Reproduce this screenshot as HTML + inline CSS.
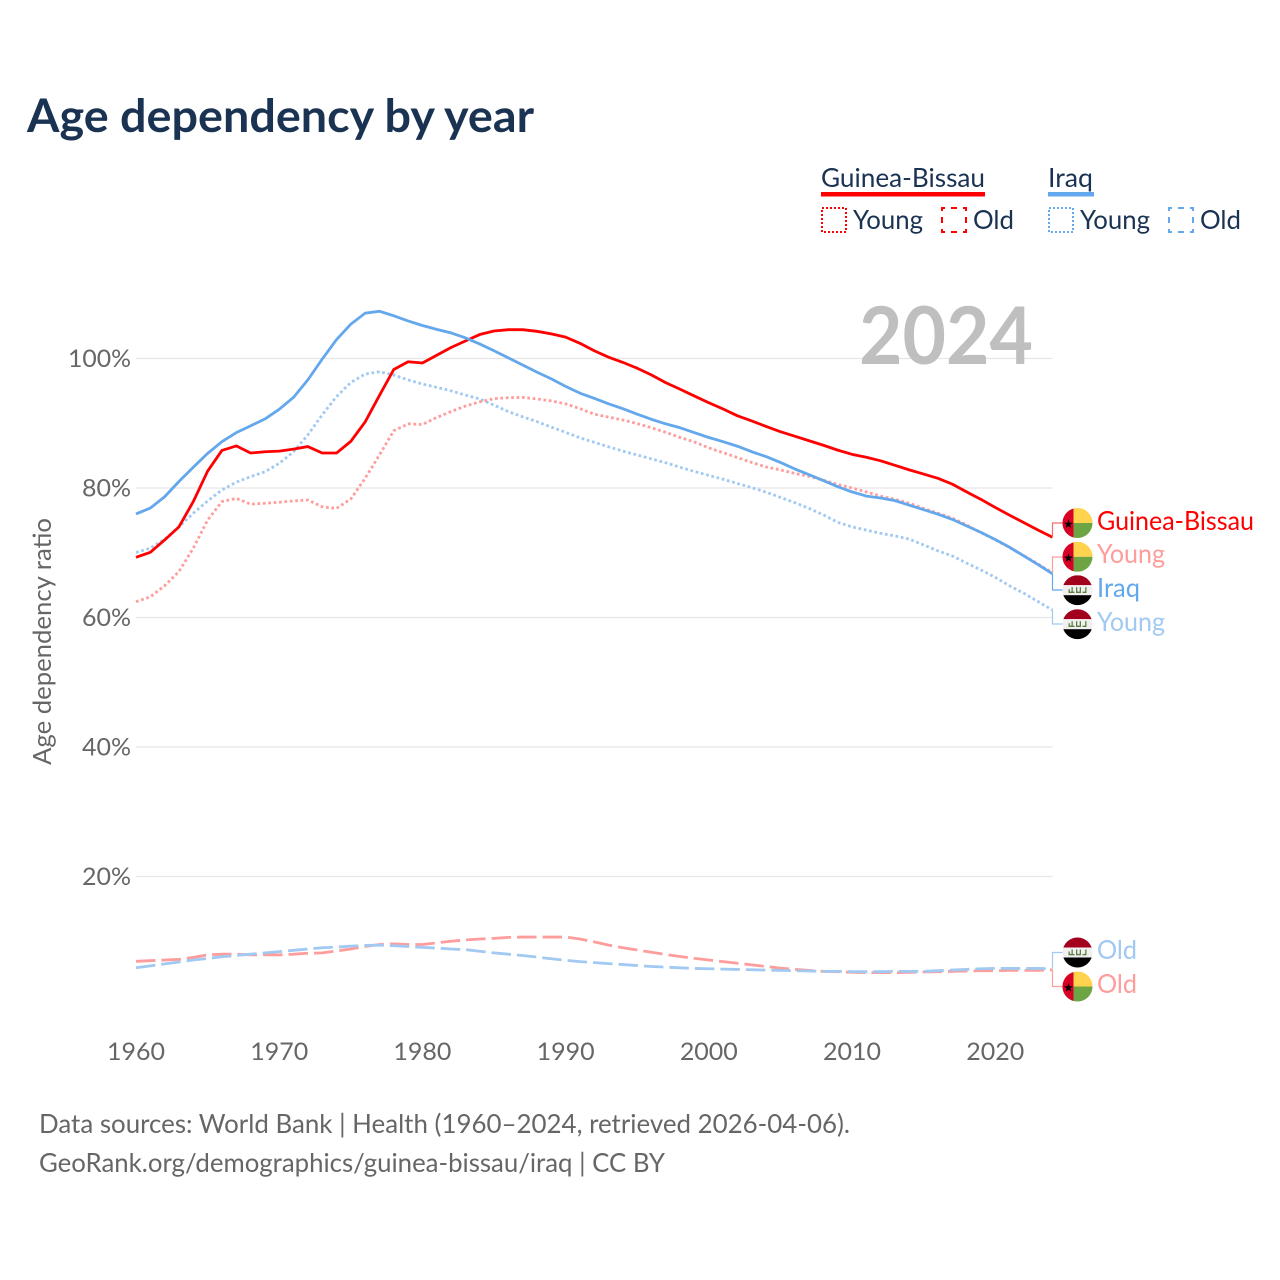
<!DOCTYPE html>
<html lang="en">
<head>
<meta charset="utf-8">
<title>Age dependency by year</title>
<style>
html,body{margin:0;padding:0;background:#fff;}
svg{display:block;font-family:"Lato","Carlito","Liberation Sans",sans-serif;}
</style>
</head>
<body>
<svg id="chart" xmlns="http://www.w3.org/2000/svg" width="1280" height="1280" viewBox="0 0 1280 1280">
  <defs>
    <clipPath id="flag-clip"><circle cx="0" cy="0" r="15"/></clipPath>
    <g id="flag-gw" clip-path="url(#flag-clip)">
      <rect x="-15" y="-15" width="30" height="15" fill="#ffd34d"/>
      <rect x="-15" y="0" width="30" height="15" fill="#6da544"/>
      <rect x="-15" y="-15" width="11" height="30" fill="#d80027"/>
      <polygon points="-9,-3.5 -7.9,-0.2 -4.5,-0.2 -7.2,1.8 -6.2,5 -9,3.1 -11.8,5 -10.8,1.8 -13.5,-0.2 -10.1,-0.2" fill="#000"/>
    </g>
    <g id="flag-iq" clip-path="url(#flag-clip)">
      <rect x="-15" y="-15" width="30" height="10" fill="#a2001d"/>
      <rect x="-15" y="-5" width="30" height="10" fill="#f0f0f0"/>
      <rect x="-15" y="5" width="30" height="10" fill="#000"/>
      <g fill="#5c8042">
        <rect x="-9" y="1.4" width="6" height="1.4"/>
        <rect x="-9" y="-1" width="1.3" height="3"/>
        <rect x="-6" y="-3" width="1.3" height="5"/>
        <rect x="-1.5" y="1.4" width="5" height="1.4"/>
        <rect x="-1.5" y="-3" width="1.3" height="5"/>
        <rect x="2.2" y="-3" width="1.3" height="5"/>
        <rect x="5" y="1.4" width="4" height="1.4"/>
        <rect x="7.7" y="-3" width="1.3" height="5"/>
      </g>
    </g>
  </defs>

  <rect x="0" y="0" width="1280" height="1280" fill="#fff"/>

  <text x="27" y="132" font-size="46" font-weight="700" fill="#1a3353" textLength="507" lengthAdjust="spacingAndGlyphs">Age dependency by year</text>

  <g font-size="26" fill="#1a3353">
    <text x="821" y="187" textLength="164" lengthAdjust="spacingAndGlyphs">Guinea-Bissau</text>
    <rect x="821" y="192" width="164" height="4.5" fill="#ff0000"/>
    <text x="1048" y="187" textLength="45" lengthAdjust="spacingAndGlyphs">Iraq</text>
    <rect x="1048" y="192" width="46" height="4.5" fill="#63a7ec"/>

    <rect x="822" y="208" width="24" height="24" fill="none" stroke="#ff0000" stroke-width="2" stroke-dasharray="2 2"/>
    <text x="853" y="229" textLength="70" lengthAdjust="spacingAndGlyphs">Young</text>
    <rect x="942" y="208" width="24" height="24" fill="none" stroke="#ff0000" stroke-width="2" stroke-dasharray="6 6" stroke-dashoffset="3"/>
    <text x="973" y="229" textLength="41" lengthAdjust="spacingAndGlyphs">Old</text>

    <rect x="1049" y="208" width="24" height="24" fill="none" stroke="#63a7ec" stroke-width="2" stroke-dasharray="2 2"/>
    <text x="1080" y="229" textLength="70" lengthAdjust="spacingAndGlyphs">Young</text>
    <rect x="1169" y="208" width="24" height="24" fill="none" stroke="#63a7ec" stroke-width="2" stroke-dasharray="6 6" stroke-dashoffset="3"/>
    <text x="1200" y="229" textLength="41" lengthAdjust="spacingAndGlyphs">Old</text>
  </g>

  <g id="grid"></g>
  <g id="y-ticks"></g>
  <g id="x-ticks"></g>

  <text transform="translate(51,765) rotate(-90)" font-size="25" fill="#666" textLength="247" lengthAdjust="spacingAndGlyphs">Age dependency ratio</text>

  <text x="859" y="364" font-size="80" font-weight="700" fill="#bfbfbf" textLength="174" lengthAdjust="spacingAndGlyphs">2024</text>

  <g id="series"></g>
  <g id="connectors"></g>

  <g font-size="26">
    <use href="#flag-gw" x="1077.5" y="523"/>
    <use href="#flag-gw" x="1077.5" y="556.8"/>
    <use href="#flag-iq" x="1077.5" y="590.2"/>
    <use href="#flag-iq" x="1077.5" y="624.2"/>
    <use href="#flag-iq" x="1077.5" y="952.5"/>
    <use href="#flag-gw" x="1077.5" y="986.5"/>
    <text x="1097" y="530" fill="#ff0000" textLength="157" lengthAdjust="spacingAndGlyphs">Guinea-Bissau</text>
    <text x="1097" y="563" fill="#ff9c9c" textLength="68" lengthAdjust="spacingAndGlyphs">Young</text>
    <text x="1097" y="597" fill="#63a7ec" textLength="43" lengthAdjust="spacingAndGlyphs">Iraq</text>
    <text x="1097" y="631" fill="#a1c9f2" textLength="68" lengthAdjust="spacingAndGlyphs">Young</text>
    <text x="1097" y="959" fill="#a1c9f2" textLength="40" lengthAdjust="spacingAndGlyphs">Old</text>
    <text x="1097" y="993" fill="#ff9c9c" textLength="40" lengthAdjust="spacingAndGlyphs">Old</text>
  </g>

  <g font-size="26" fill="#666">
    <text x="39" y="1133" textLength="811" lengthAdjust="spacingAndGlyphs">Data sources: World Bank | Health (1960–2024, retrieved 2026-04-06).</text>
    <text x="39" y="1172" textLength="626" lengthAdjust="spacingAndGlyphs">GeoRank.org/demographics/guinea-bissau/iraq | CC BY</text>
  </g>
</svg>

<script>
const firstYear = 1960;
const lastYear = 2024;
const yTickValues = [20, 40, 60, 80, 100];
const yTickLabels = ["20%", "40%", "60%", "80%", "100%"];
const xTickYears = [1960, 1970, 1980, 1990, 2000, 2010, 2020];

const guineaBissauTotal = [69.3,70.07,71.97,74.0,77.9,82.6,85.8,86.5,85.4,85.6,85.7,86.0,86.4,85.4,85.4,87.2,90.2,94.3,98.3,99.5,99.3,100.5,101.7,102.7,103.7,104.25,104.45,104.45,104.2,103.8,103.3,102.35,101.2,100.2,99.4,98.5,97.45,96.25,95.25,94.2,93.17,92.2,91.15,90.35,89.5,88.7,88.0,87.3,86.6,85.85,85.2,84.75,84.2,83.5,82.8,82.15,81.5,80.6,79.4,78.25,77.0,75.8,74.65,73.5,72.4];
const guineaBissauYoung = [62.45,63.2,64.9,67.1,70.7,75.05,77.9,78.4,77.5,77.65,77.8,78.0,78.15,77.1,76.85,78.3,81.5,85.1,88.85,89.9,89.8,90.9,91.8,92.65,93.3,93.8,93.95,94.0,93.75,93.45,93.0,92.25,91.4,90.95,90.5,89.95,89.3,88.6,87.8,87.1,86.2,85.45,84.7,83.95,83.25,82.8,82.25,81.8,81.2,80.55,80.0,79.4,78.75,78.25,77.65,76.85,76.1,75.35,74.3,73.1,72.0,70.8,69.55,68.25,66.9];
const guineaBissauOld = [6.9,7.0,7.1,7.2,7.5,7.9,8.0,8.0,7.9,7.9,7.9,8.0,8.15,8.2,8.5,8.8,9.2,9.5,9.6,9.5,9.5,9.75,10.0,10.2,10.35,10.45,10.6,10.65,10.65,10.65,10.65,10.35,9.9,9.4,9.0,8.65,8.3,7.95,7.65,7.35,7.1,6.85,6.6,6.35,6.1,5.85,5.65,5.5,5.35,5.3,5.2,5.15,5.15,5.15,5.2,5.25,5.3,5.35,5.4,5.45,5.45,5.5,5.5,5.5,5.6];
const iraqTotal = [76.0,76.9,78.65,81.0,83.2,85.35,87.15,88.55,89.6,90.65,92.15,94.0,96.7,99.9,102.9,105.3,107.0,107.3,106.6,105.8,105.1,104.5,103.95,103.2,102.25,101.2,100.1,99.0,97.9,96.85,95.7,94.65,93.85,93.0,92.25,91.4,90.6,89.9,89.3,88.55,87.8,87.15,86.45,85.6,84.85,83.95,82.95,82.05,81.15,80.2,79.4,78.75,78.45,78.05,77.35,76.65,75.95,75.15,74.15,73.15,72.05,70.85,69.5,68.15,66.75];
const iraqYoung = [70.05,70.7,72.1,74.0,76.1,78.0,79.7,80.9,81.75,82.5,83.8,85.6,88.2,91.3,94.1,96.3,97.6,97.95,97.45,96.7,96.05,95.55,95.0,94.35,93.75,92.8,91.8,91.0,90.25,89.4,88.6,87.75,87.05,86.35,85.7,85.1,84.5,83.9,83.2,82.55,81.95,81.35,80.7,80.05,79.35,78.55,77.75,76.85,75.85,74.7,74.0,73.5,73.0,72.6,72.1,71.2,70.3,69.5,68.4,67.35,66.2,64.9,63.75,62.45,61.15];
const iraqOld = [5.9,6.2,6.5,6.8,7.1,7.35,7.6,7.8,8.0,8.2,8.4,8.6,8.8,9.0,9.1,9.25,9.35,9.4,9.3,9.2,9.05,8.95,8.8,8.7,8.45,8.2,8.0,7.8,7.55,7.3,7.05,6.85,6.7,6.55,6.4,6.25,6.1,6.0,5.9,5.8,5.75,5.7,5.65,5.6,5.55,5.5,5.45,5.4,5.35,5.35,5.3,5.3,5.3,5.35,5.35,5.35,5.45,5.55,5.65,5.75,5.8,5.8,5.8,5.8,5.75];

const SVGNS = "http://www.w3.org/2000/svg";
const plotLeft = 136, plotRight = 1052.5, zeroY = 1006, pxPerPct = 6.475;
const xScale = function (year) { return plotLeft + (year - firstYear) * (plotRight - plotLeft) / (lastYear - firstYear); };
const yScale = function (value) { return zeroY - value * pxPerPct; };

function make(tag, parent) {
  const el = document.createElementNS(SVGNS, tag);
  parent.appendChild(el);
  return el;
}

const gridGroup = document.getElementById("grid");
const yTickGroup = document.getElementById("y-ticks");
const xTickGroup = document.getElementById("x-ticks");
const seriesGroup = document.getElementById("series");
const connectorGroup = document.getElementById("connectors");

yTickValues.forEach(function (v, i) {
  const line = make("line", gridGroup);
  
  
  line.setAttribute("x1", plotLeft);
  line.setAttribute("x2", plotRight);
  line.setAttribute("y1", yScale(v));
  line.setAttribute("y2", yScale(v));
  line.setAttribute("stroke", "#e6e6e6");
  line.setAttribute("stroke-width", "1.3");

  const label = make("text", yTickGroup);
  
  
  label.setAttribute("x", 131);
  label.setAttribute("y", yScale(v) + 8.5);
  label.setAttribute("text-anchor", "end");
  label.setAttribute("font-size", "24");
  label.setAttribute("fill", "#666");
  label.setAttribute("textLength", v === 100 ? 63 : 49);
  label.setAttribute("lengthAdjust", "spacingAndGlyphs");
  label.textContent = yTickLabels[i];
});

xTickYears.forEach(function (year) {
  const label = make("text", xTickGroup);
  
  
  label.setAttribute("x", xScale(year));
  label.setAttribute("y", 1060);
  label.setAttribute("text-anchor", "middle");
  label.setAttribute("font-size", "24");
  label.setAttribute("fill", "#666");
  label.setAttribute("textLength", 58);
  label.setAttribute("lengthAdjust", "spacingAndGlyphs");
  label.textContent = String(year);
});

function drawSeries(name, values, color, width, dash) {
  const line = make("polyline", seriesGroup);
  
  
  line.setAttribute("points", values.map(function (v, i) {
    return xScale(firstYear + i).toFixed(2) + "," + yScale(v).toFixed(2);
  }).join(" "));
  line.setAttribute("fill", "none");
  line.setAttribute("stroke", color);
  line.setAttribute("stroke-width", width);
  line.setAttribute("stroke-linejoin", "round");
  if (dash) { line.setAttribute("stroke-dasharray", dash); }
}

function drawConnector(name, value, labelY, color) {
  const end = make("path", connectorGroup);
  
  
  end.setAttribute("d", "M" + plotRight + " " + yScale(value).toFixed(2) + " V" + labelY + " H1063");
  end.setAttribute("fill", "none");
  end.setAttribute("stroke", color);
  end.setAttribute("stroke-width", "1.2");
}

const lightRed = "#ff9c9c", lightBlue = "#a1c9f2", red = "#ff0000", blue = "#63a7ec";

drawConnector("connector-guinea-bissau", guineaBissauTotal[64], 523, "#ff6a6a");
drawConnector("connector-gb-young", guineaBissauYoung[64], 557, lightRed);
drawConnector("connector-iraq", iraqTotal[64], 590, blue);
drawConnector("connector-iraq-young", iraqYoung[64], 624, lightBlue);
drawConnector("connector-iraq-old", iraqOld[64], 952.5, lightBlue);
drawConnector("connector-gb-old", guineaBissauOld[64], 986.5, lightRed);

drawSeries("line-iraq-young", iraqYoung, lightBlue, 2.8, "2.7 2.7");
drawSeries("line-gb-young", guineaBissauYoung, lightRed, 2.8, "2.7 2.7");
drawSeries("line-gb-old", guineaBissauOld, lightRed, 2.8, "19.5 6");
drawSeries("line-iraq-old", iraqOld, lightBlue, 2.8, "19.5 6");
drawSeries("line-guinea-bissau-total", guineaBissauTotal, red, 2.8, null);
drawSeries("line-iraq-total", iraqTotal, blue, 2.8, null);
</script>
</body>
</html>
